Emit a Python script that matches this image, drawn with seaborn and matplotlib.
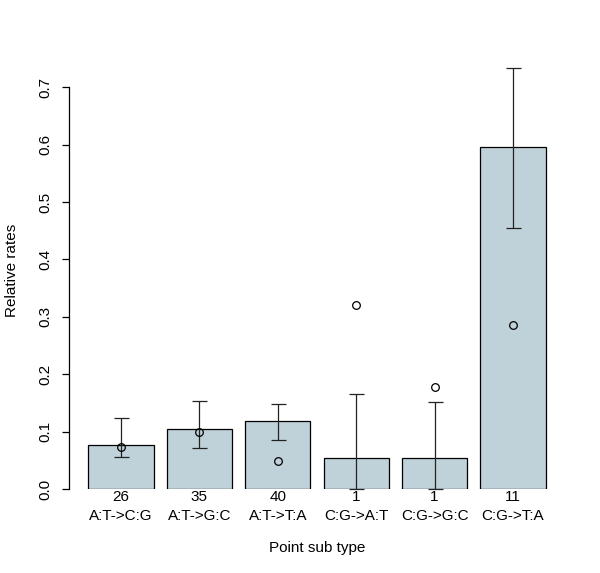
import numpy as np
import matplotlib
matplotlib.use("Agg")
import matplotlib.pyplot as plt
import pandas as pd
import seaborn as sns

# ---------------------------------------------------------------------------
# Data
# ---------------------------------------------------------------------------
sub_types = ["A:T->C:G", "A:T->G:C", "A:T->T:A", "C:G->A:T", "C:G->G:C", "C:G->T:A"]
counts = [26, 35, 40, 1, 1, 11]
rates = [0.077, 0.104, 0.119, 0.054, 0.054, 0.596]
ci_lower = [0.055, 0.072, 0.086, 0.0, 0.0, 0.455]
ci_upper = [0.124, 0.154, 0.148, 0.165, 0.151, 0.734]
observed = [0.074, 0.099, 0.049, 0.320, 0.178, 0.285]

yticks = [0.0, 0.1, 0.2, 0.3, 0.4, 0.5, 0.6, 0.7]

# ---------------------------------------------------------------------------
# Plot
# ---------------------------------------------------------------------------
sns.set_theme(style="white")
plt.rcParams["font.family"] = ["Liberation Sans", "DejaVu Sans"]
plt.rcParams.update({"text.color": "black", "axes.labelcolor": "black",
                     "xtick.color": "black", "ytick.color": "black"})

df = pd.DataFrame({
    "label": [f"{n}\n{s}" for n, s in zip(counts, sub_types)],
    "rate": rates,
})

fig = plt.figure(figsize=(6.0, 5.73), dpi=100)
ax = fig.add_axes([0.1167, 0.1466, 0.8233, 0.7644])

sns.barplot(data=df, x="label", y="rate", ax=ax, color="#bfd1d9",
            saturation=1, width=1 / 1.2, edgecolor="black", linewidth=0.9,
            errorbar=None)

xpos = np.arange(len(rates))
rates_a = np.array(rates)
yerr = np.vstack([rates_a - np.array(ci_lower), np.array(ci_upper) - rates_a])
ax.errorbar(xpos, rates_a, yerr=yerr, fmt="none", ecolor="#222222",
            elinewidth=0.9, capsize=5.4, capthick=0.9, clip_on=False, zorder=3)
ax.plot(xpos, observed, linestyle="none", marker="o", markersize=5.5,
        markerfacecolor="none", markeredgecolor="black", markeredgewidth=0.9,
        zorder=4)

ax.set_xlim(-0.65, 5.65)
ax.set_ylim(0, 0.763)

for side in ["top", "right", "bottom"]:
    ax.spines[side].set_visible(False)
ax.spines["left"].set_bounds(0, 0.7)
ax.spines["left"].set_color("black")
ax.spines["left"].set_linewidth(0.9)
ax.spines["left"].set_position(("outward", 1))

ax.set_yticks(yticks)
ax.set_yticklabels([f"{v:.1f}" for v in yticks], rotation=90, va="center")
ax.tick_params(axis="y", direction="out", length=5, width=0.9, color="black",
               labelsize=11, pad=7, left=True)
ax.tick_params(axis="x", length=0, labelsize=11, pad=1)
for t in ax.get_xticklabels():
    t.set_linespacing(1.4)

ax.set_xlabel("Point sub type", fontsize=11, labelpad=13)
ax.set_ylabel("Relative rates", fontsize=11, labelpad=14)

fig.savefig("out.png", dpi=100)
plt.close(fig)
